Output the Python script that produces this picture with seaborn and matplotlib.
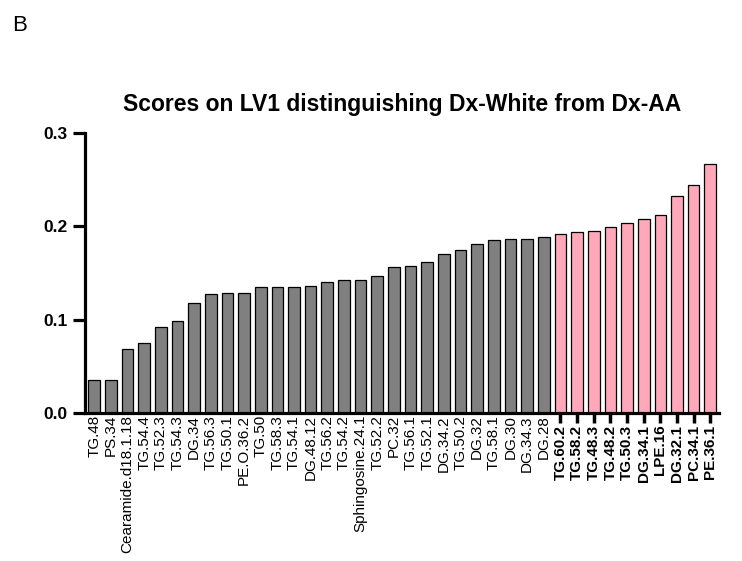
import pandas as pd
import seaborn as sns
import matplotlib
matplotlib.use('Agg')
import matplotlib.pyplot as plt

LIPIDS = ['TG.48', 'PS.34', 'Cearamide.d18.1.18', 'TG.54.4', 'TG.52.3', 'TG.54.3',
          'DG.34', 'TG.56.3', 'TG.50.1', 'PE.O.36.2', 'TG.50', 'TG.58.3', 'TG.54.1',
          'DG.48.12', 'TG.56.2', 'TG.54.2', 'Sphingosine.24.1', 'TG.52.2', 'PC.32',
          'TG.56.1', 'TG.52.1', 'DG.34.2', 'TG.50.2', 'DG.32', 'TG.58.1', 'DG.30',
          'DG.34.3', 'DG.28',
          'TG.60.2', 'TG.58.2', 'TG.48.3', 'TG.48.2', 'TG.50.3', 'DG.34.1', 'LPE.16',
          'DG.32.1', 'PC.34.1', 'PE.36.1']
SCORES = [0.035, 0.035, 0.069, 0.075, 0.092, 0.099, 0.118, 0.127, 0.128, 0.128,
          0.135, 0.135, 0.135, 0.136, 0.140, 0.142, 0.142, 0.147, 0.156, 0.157,
          0.162, 0.170, 0.174, 0.181, 0.185, 0.186, 0.186, 0.188,
          0.192, 0.194, 0.195, 0.199, 0.203, 0.208, 0.212, 0.232, 0.244, 0.267]
GROUP = ['other'] * 28 + ['top'] * 10

COLORS = {'other': '#808080', 'top': '#FFA8B9'}
XTICK_LEN = 7


def main():
    plt.rcParams['font.family'] = ['Liberation Sans', 'DejaVu Sans']
    df = pd.DataFrame({'lipid': LIPIDS, 'score': SCORES, 'group': GROUP})

    fig = plt.figure(figsize=(7.42, 5.61), dpi=100)
    ax = fig.add_axes([0.1146, 0.2638, 0.855, 0.4995])
    sns.barplot(data=df, x='lipid', y='score', hue='group', palette=COLORS,
                dodge=False, legend=False, width=0.7, edgecolor='black',
                linewidth=0.9, saturation=1, ax=ax)

    ax.set_xlim(-0.55, len(LIPIDS) - 0.45)
    ax.set_ylim(0, 0.3)
    ax.set_yticks([0.0, 0.1, 0.2, 0.3])
    ax.set_yticklabels(['0.0', '0.1', '0.2', '0.3'], fontweight='bold', fontsize=12.5)
    ax.set_xlabel('')
    ax.set_ylabel('')
    sns.despine(ax=ax)
    for s in ('left', 'bottom'):
        ax.spines[s].set_linewidth(2.3)
    ax.tick_params(axis='y', width=2.3, length=9, pad=3.5)
    ax.tick_params(axis='x', width=2.5, length=XTICK_LEN, pad=1.5)

    ax.set_xticks(range(len(LIPIDS)))
    ax.set_xticklabels(LIPIDS, rotation=90, fontsize=11)
    # only the highlighted lipids get tick marks; the rest sit right under the axis
    for tick, lab, g in zip(ax.xaxis.get_major_ticks(), ax.get_xticklabels(), GROUP):
        if g == 'top':
            lab.set_fontweight('bold')
        else:
            tick.tick1line.set_visible(False)
            tick.set_pad(1.5 - XTICK_LEN)

    ax.set_title('Scores on LV1 distinguishing Dx-White from Dx-AA',
                 fontweight='bold', fontsize=16.5, pad=16)
    fig.text(0.016, 0.945, 'B', fontsize=16)
    fig.savefig('out.png', dpi=100)


if __name__ == '__main__':
    main()
